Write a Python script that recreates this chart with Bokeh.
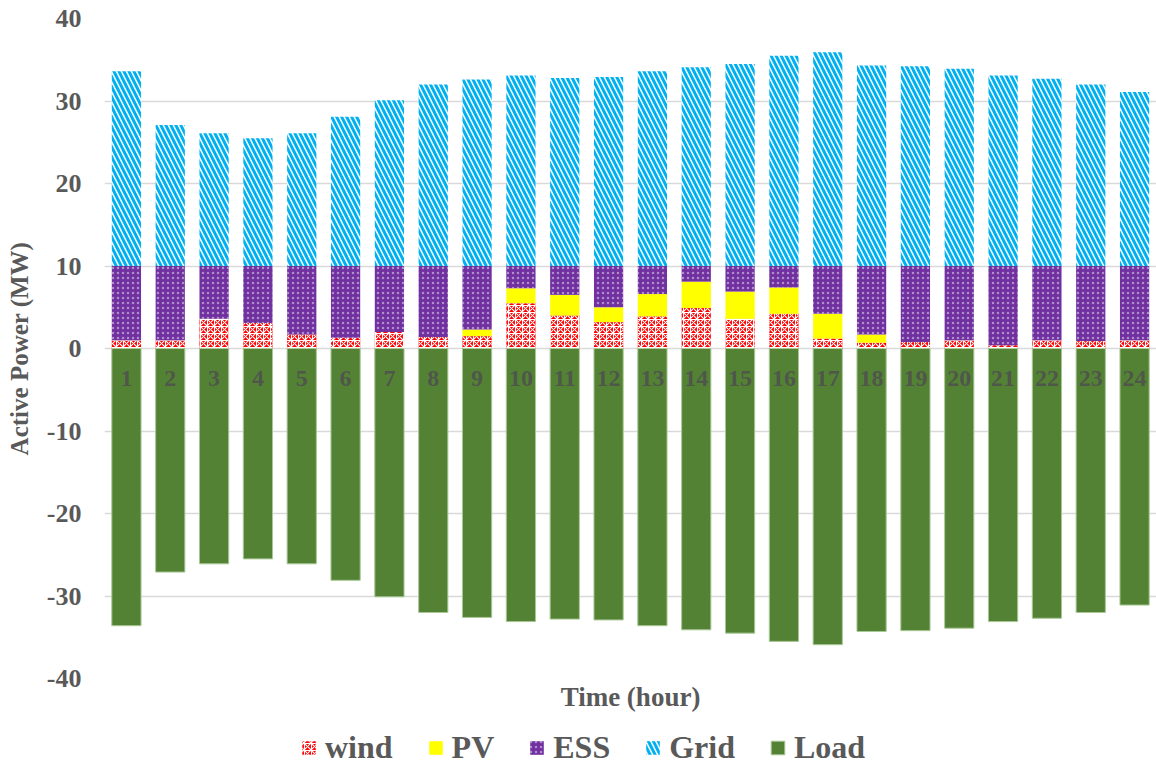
from bokeh.plotting import figure
from bokeh.layouts import column
from bokeh.models import Range1d, Legend, LegendItem, Title, ColumnDataSource, FixedTicker
from bokeh.core.properties import value
from bokeh.embed import file_html
from bokeh.resources import INLINE

hours = list(range(1, 25))
hour_labels = [str(h) for h in hours]
wind = [1.0, 1.0, 3.6, 3.1, 1.7, 1.3, 2.0, 1.4, 1.5, 5.5, 4.0, 3.2,
        3.9, 4.9, 3.6, 4.2, 1.2, 0.7, 0.8, 1.0, 0.4, 1.0, 0.9, 1.0]
pv = [0.0, 0.0, 0.0, 0.0, 0.0, 0.0, 0.0, 0.0, 0.8, 1.8, 2.5, 1.8,
      2.7, 3.2, 3.3, 3.2, 3.0, 1.0, 0.0, 0.0, 0.0, 0.0, 0.0, 0.0]
ess = [9.0, 9.0, 6.4, 6.9, 8.3, 8.7, 8.0, 8.6, 7.7, 2.7, 3.5, 5.0,
       3.4, 1.9, 3.1, 2.6, 5.8, 8.3, 9.2, 9.0, 9.6, 9.0, 9.1, 9.0]
grid = [23.6, 17.1, 16.1, 15.5, 16.1, 18.1, 20.1, 22.0, 22.6, 23.1, 22.8, 22.9,
        23.6, 24.1, 24.5, 25.5, 25.9, 24.3, 24.2, 23.9, 23.1, 22.7, 22.0, 21.1]
load = [-33.6, -27.1, -26.1, -25.5, -26.1, -28.1, -30.1, -32.0, -32.6, -33.1, -32.8, -32.9,
        -33.6, -34.1, -34.5, -35.5, -35.9, -34.3, -34.2, -33.9, -33.1, -32.7, -32.0, -31.1]
y_ticks = [-40, -30, -20, -10, 0, 10, 20, 30, 40]
series_names = ["wind", "PV", "ESS", "Grid", "Load"]

w_top = wind
pv_top = [a + b for a, b in zip(wind, pv)]
ess_top = [a + b for a, b in zip(pv_top, ess)]
grid_top = [a + b for a, b in zip(ess_top, grid)]

src = ColumnDataSource(dict(x=hours, lab=hour_labels, zero=[0] * 24,
                            w_top=w_top, pv_top=pv_top, ess_top=ess_top,
                            grid_top=grid_top, load=load))

FONT = "Liberation Serif"
GREY = "#595959"

STYLES = [
    dict(fill_color="#FF0000", line_color=None, hatch_pattern="criss_cross",
         hatch_color="white", hatch_scale=7, hatch_weight=1.1),
    dict(fill_color="#FFFF00", line_color=None),
    dict(fill_color="#7030A0", line_color=None, hatch_pattern="dot",
         hatch_color="white", hatch_scale=5, hatch_alpha=0.45),
    dict(fill_color="white", line_color=None, hatch_pattern="left_diagonal_line",
         hatch_color="#00B0F0", hatch_scale=10, hatch_weight=3.0),
    dict(fill_color="#548235", line_color="#A9C896", line_width=1),
]

p = figure(width=1156, height=728, x_range=Range1d(0.5, 24.5), y_range=Range1d(-40, 40),
           output_backend="svg", toolbar_location=None,
           min_border_left=104, min_border_top=18, min_border_right=0, min_border_bottom=50)
p.outline_line_color = None
p.xgrid.grid_line_color = None
p.ygrid.grid_line_color = "#D9D9D9"
p.ygrid.grid_line_width = 1.5
p.xaxis.visible = False

p.yaxis.ticker = FixedTicker(ticks=y_ticks)
p.yaxis.major_label_overrides = {t: str(t) for t in y_ticks}
p.yaxis.axis_line_color = None
p.yaxis.major_tick_line_color = None
p.yaxis.major_tick_out = 0
p.yaxis.major_tick_in = 0
p.yaxis.minor_tick_line_color = None
p.yaxis.major_label_text_font = FONT
p.yaxis.major_label_text_font_style = "bold"
p.yaxis.major_label_text_font_size = "26px"
p.yaxis.major_label_text_color = GREY
p.yaxis.major_label_standoff = 23
p.yaxis.axis_label = "Active Power (MW)"
p.yaxis.axis_label_text_font = FONT
p.yaxis.axis_label_text_font_style = "bold"
p.yaxis.axis_label_text_font_size = "25px"
p.yaxis.axis_label_text_color = GREY
p.yaxis.axis_label_standoff = 11

bw = 0.667
bottoms = ["zero", "w_top", "pv_top", "ess_top", "load"]
tops = ["w_top", "pv_top", "ess_top", "grid_top", "zero"]
for b, t, st in zip(bottoms, tops, STYLES):
    p.vbar(x="x", bottom=b, top=t, width=bw, source=src, **st)

p.text(x="x", y="zero", text="lab", source=src, y_offset=30,
       text_align="center", text_baseline="middle",
       text_font=value(FONT), text_font_style="bold", text_font_size="24px",
       text_color="#4F4F4F", text_alpha=0.85)

ttl = Title(text="Time (hour)", align="center", text_font=FONT, text_font_style="bold",
            text_font_size="27px", text_color=GREY, standoff=2)
p.add_layout(ttl, "below")

# legend strip
q = figure(width=1156, height=40, x_range=Range1d(0, 1), y_range=Range1d(0, 1),
           output_backend="svg", toolbar_location=None,
           min_border_left=0, min_border_right=0, min_border_top=0, min_border_bottom=0)
q.axis.visible = False
q.grid.visible = False
q.outline_line_color = None
items = []
for name, st in zip(series_names, STYLES):
    r = q.vbar(x=[5], bottom=[5], top=[6], width=0.1, **st)
    items.append(LegendItem(label=name, renderers=[r], index=0))
legend = Legend(items=items, orientation="horizontal", location=(196, 2),
                label_text_font=FONT, label_text_font_style="bold", label_text_font_size="32px",
                label_text_color=GREY, glyph_width=17, glyph_height=17, label_standoff=8,
                spacing=34, padding=0, margin=0, border_line_color=None, background_fill_alpha=0)
q.add_layout(legend, "center")

layout = column(p, q, spacing=0)
open("out.html", "w").write(file_html(layout, INLINE))
